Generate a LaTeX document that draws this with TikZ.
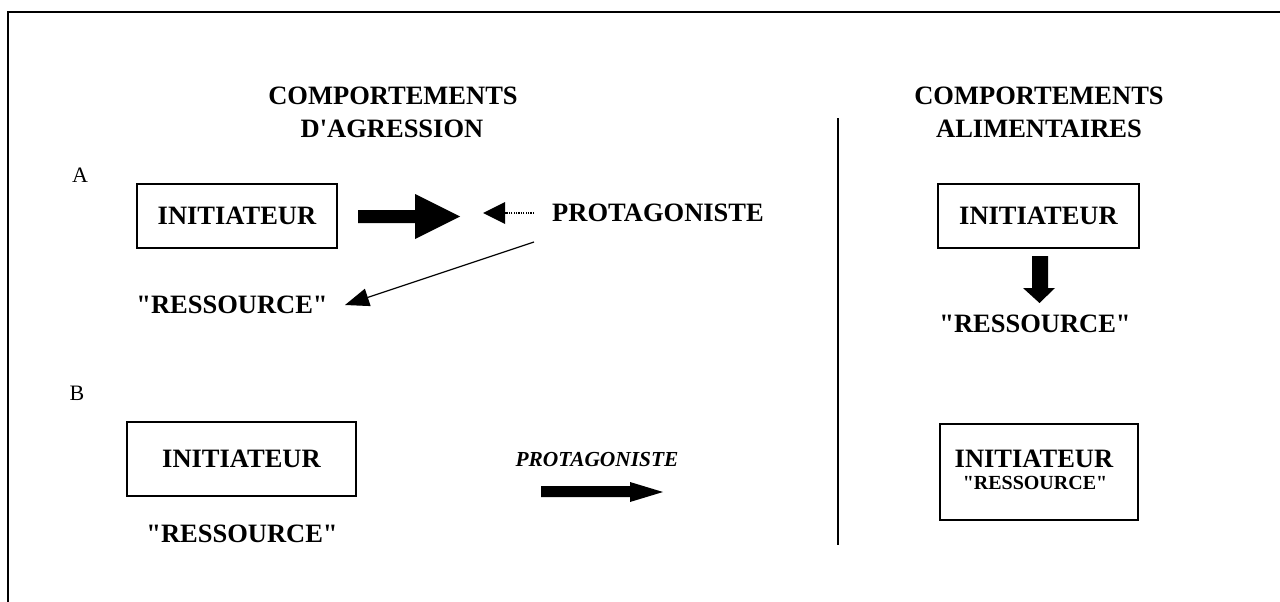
\documentclass[tikz,border=0pt]{standalone}
\usepackage{fontspec}
\setmainfont{Liberation Serif}
\usetikzlibrary{arrows.meta}
\newcommand{\dq}{\textquotedbl}
\begin{document}
\begin{tikzpicture}[x=1pt,y=-1pt,
  lbl/.style={font=\fontsize{26.5}{30}\selectfont\bfseries, inner sep=0pt},
  small/.style={font=\fontsize{20}{24}\selectfont\bfseries, inner sep=0pt},
  letter/.style={font=\fontsize{22}{24}\selectfont, inner sep=0pt},
  box/.style={draw, line width=1.5pt, inner sep=0pt},
  thin/.style={line width=1.2pt},
  blk/.style={fill=black}]
\useasboundingbox (0,0) rectangle (1280,602);
% frame
\coordinate (fTR) at (1280,12);
\coordinate (fTL) at (8,12);
\coordinate (fBL) at (8,602);
\draw[thin] (fTR) -- (fTL) -- (fBL);

% headings
\node[lbl, anchor=base] (h1a) at (393,104) {COMPORTEMENTS};
\node[lbl, anchor=base] (h1b) at (392,137) {D\textquotesingle AGRESSION};
\node[lbl, anchor=base] (h2a) at (1039,104) {COMPORTEMENTS};
\node[lbl, anchor=base] (h2b) at (1039,137) {ALIMENTAIRES};

% separator
\coordinate (sepT) at (838,118);
\coordinate (sepB) at (838,545);
\draw[thin] (sepT) -- (sepB);

% letters
\node[letter] (lA) at (80,175) {A};
\node[letter] (lB) at (77,393) {B};

% Part A, left
\node[box, lbl, minimum width=200pt, minimum height=64pt] (iniA) at (237,216) {INITIATEUR};
\node[lbl] (protA) at (658,213) {PROTAGONISTE};
\node[lbl] (resA) at (232,305) {\dq RESSOURCE\dq};

\coordinate (bigS) at (358,216.5);
\fill[blk] (358,210) -- (415,210) -- (415,194) -- (460,216.5) -- (415,239) -- (415,223) -- (358,223) -- cycle;

\coordinate (smTip) at (483,213);
\fill[blk] (smTip) -- (505,202) -- (505,224) -- cycle;
\coordinate (dotS) at (534,213);
\coordinate (dotE) at (505,213);
\draw[thin, dash pattern=on 1.2pt off 1.2pt] (dotS) -- (dotE);

\coordinate (thS) at (534,242);
\coordinate (thE) at (345,305);
\draw[thin, -{Triangle[length=24pt,width=18pt]}] (thS) -- (thE);

% Part A, right
\node[box, lbl, minimum width=201pt, minimum height=64pt] (iniAR) at (1038.5,216) {INITIATEUR};
\node[lbl] (resAR) at (1035,324) {\dq RESSOURCE\dq};
\fill[blk] (1032,256) -- (1048,256) -- (1048,288) -- (1055,288) -- (1039.5,303) -- (1023,288) -- (1032,288) -- cycle;

% Part B, left
\node[box, lbl, minimum width=229pt, minimum height=74pt] (iniB) at (241.5,459) {INITIATEUR};
\node[lbl] (resB) at (242,534) {\dq RESSOURCE\dq};
\node[font=\fontsize{21.4}{24}\selectfont\bfseries\itshape, inner sep=0pt] (protB) at (597,460) {PROTAGONISTE};
\fill[blk] (541,486) -- (630,486) -- (630,482) -- (663,492) -- (630,502) -- (630,497) -- (541,497) -- cycle;

% Part B, right
\node[box, minimum width=198pt, minimum height=96pt] (boxBR) at (1039,472) {};
\node[lbl] (iniBR) at (1034,459) {INITIATEUR};
\node[small] (resBR) at (1035,483) {\dq RESSOURCE\dq};
\end{tikzpicture}
\end{document}
